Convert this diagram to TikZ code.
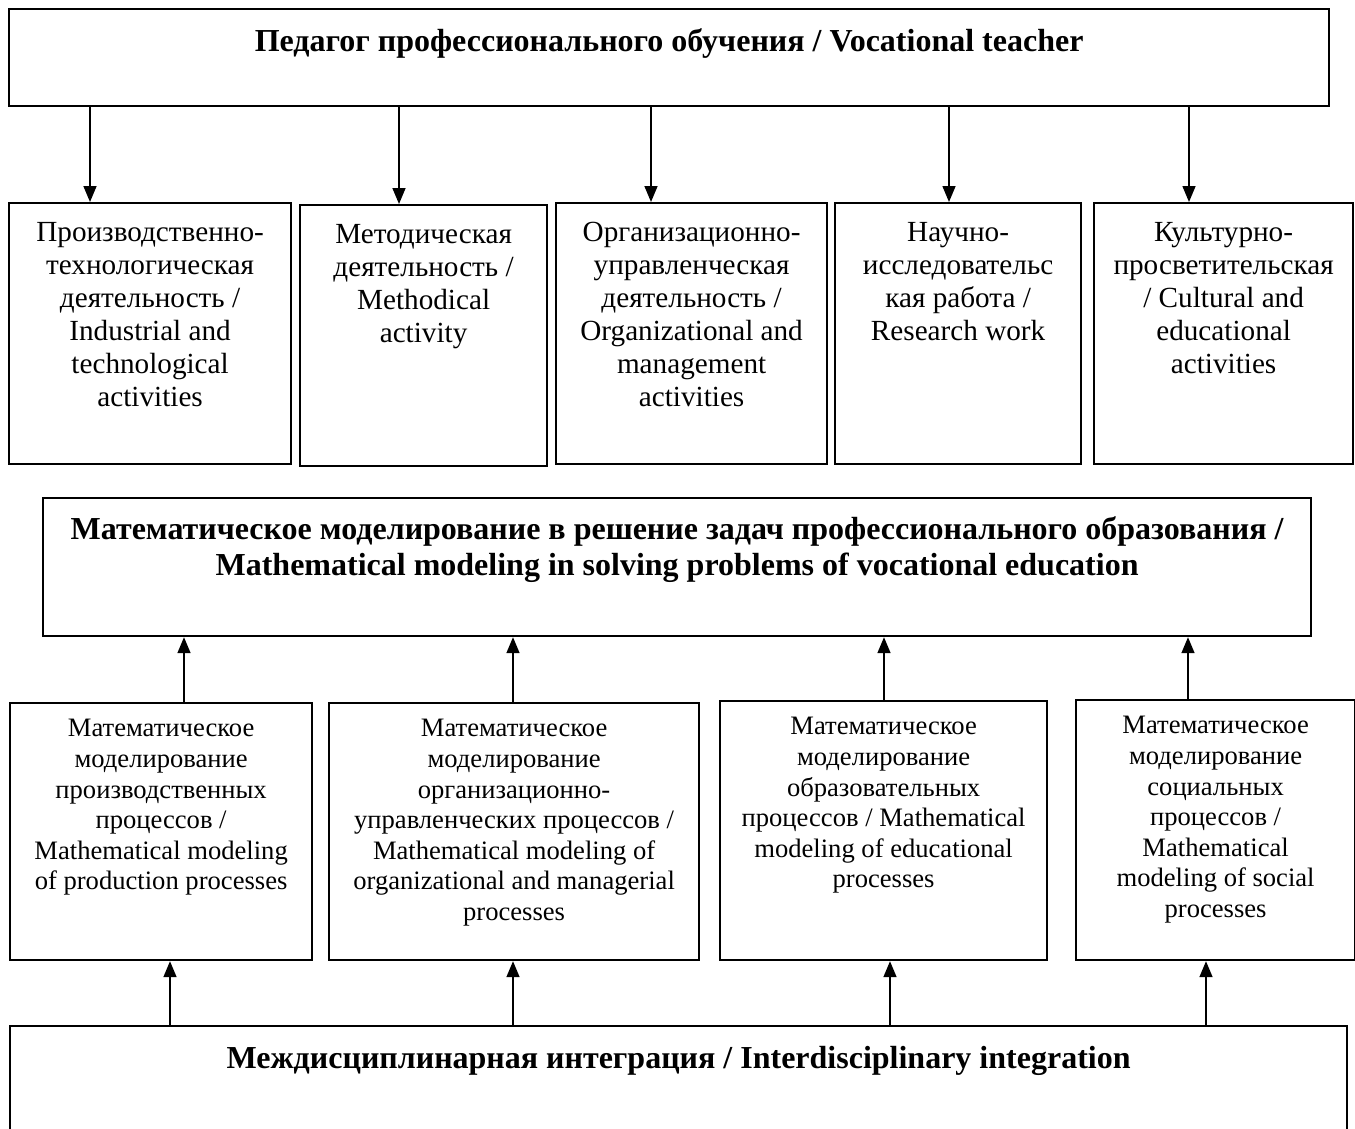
\documentclass[tikz,border=0pt]{standalone}
\usepackage{fontspec}
\setmainfont{Liberation Serif}
\usetikzlibrary{arrows.meta}

\tikzset{
  blk/.style 2 args={draw, line width=1.1pt, rectangle, inner sep=0pt, anchor=north west,
    minimum width=#1*0.5pt, minimum height=#2*0.5pt},
  lbl/.style={anchor=north, align=center, inner sep=0pt, font=\fontsize{14.6}{16.5}\selectfont},
  sublbl/.style={anchor=north, align=center, inner sep=0pt, font=\fontsize{13.3}{15.3}\selectfont},
  head/.style={anchor=north, align=center, inner sep=0pt, font=\bfseries\fontsize{16}{18}\selectfont},
  arr/.style={-{Triangle[width=6.5pt,length=8pt]}, line width=0.8pt},
}

\begin{document}
\begin{tikzpicture}[x=0.5pt, y=-0.5pt]
\useasboundingbox (0,0) rectangle (1355,1129);

% top
\node[blk={1320}{97}] (T) at (8,8) {};
\node[head] (tT) at ([yshift=-10pt]T.north) {Педагог профессионального обучения / Vocational teacher};

% kinds of activity
\node[blk={282}{261}] (A1) at (8,202) {};
\node[blk={247}{261}] (A2) at (299,204) {};
\node[blk={271}{261}] (A3) at (555,202) {};
\node[blk={246}{261}] (A4) at (834,202) {};
\node[blk={259}{261}] (A5) at (1093,202) {};
\node[lbl] (tA1) at ([yshift=-10pt]A1.north) {Производственно-\\технологическая\\деятельность /\\Industrial and\\technological\\activities};
\node[lbl] (tA2) at ([yshift=-10pt]A2.north) {Методическая\\деятельность /\\Methodical\\activity};
\node[lbl] (tA3) at ([yshift=-10pt]A3.north) {Организационно-\\управленческая\\деятельность /\\Organizational and\\management\\activities};
\node[lbl] (tA4) at ([yshift=-10pt]A4.north) {Научно-\\исследовательс\\кая работа /\\Research work};
\node[lbl] (tA5) at ([yshift=-10pt]A5.north) {Культурно-\\просветительская\\/ Cultural and\\educational\\activities};

% modeling
\node[blk={1268}{138}] (M) at (42,497) {};
\node[head] (tM) at ([yshift=-9.5pt]M.north) {Математическое моделирование в решение задач профессионального образования /\\Mathematical modeling in solving problems of vocational education};

\node[blk={302}{257}] (B1) at (9,702) {};
\node[blk={370}{257}] (B2) at (328,702) {};
\node[blk={327}{259}] (B3) at (719,700) {};
\node[blk={279}{260}] (B4) at (1075,699) {};
\node[sublbl] (tB1) at ([yshift=-8.5pt]B1.north) {Математическое\\моделирование\\производственных\\процессов /\\Mathematical modeling\\of production processes};
\node[sublbl] (tB2) at ([yshift=-8.5pt]B2.north) {Математическое\\моделирование\\организационно-\\управленческих процессов /\\Mathematical modeling of\\organizational and managerial\\processes};
\node[sublbl] (tB3) at ([yshift=-8.5pt]B3.north) {Математическое\\моделирование\\образовательных\\процессов / Mathematical\\modeling of educational\\processes};
\node[sublbl] (tB4) at ([yshift=-8.5pt]B4.north) {Математическое\\моделирование\\социальных\\процессов /\\Mathematical\\modeling of social\\processes};

% bottom
\node[blk={1337}{120}] (D) at (9,1025) {};
\node[head] (tD) at ([yshift=-10.5pt]D.north) {Междисциплинарная интеграция / Interdisciplinary integration};

% arrow columns
\coordinate (ka1) at (90,0);
\coordinate (ka2) at (399,0);
\coordinate (ka3) at (651,0);
\coordinate (ka4) at (949,0);
\coordinate (ka5) at (1189,0);
\coordinate (kb1) at (184,0);
\coordinate (kb2) at (513,0);
\coordinate (kb3) at (884,0);
\coordinate (kb4) at (1188,0);
\coordinate (kd1) at (170,0);
\coordinate (kd2) at (513,0);
\coordinate (kd3) at (890,0);
\coordinate (kd4) at (1206,0);

\draw[arr] (T.south -| ka1) -- (A1.north -| ka1);
\draw[arr] (T.south -| ka2) -- (A2.north -| ka2);
\draw[arr] (T.south -| ka3) -- (A3.north -| ka3);
\draw[arr] (T.south -| ka4) -- (A4.north -| ka4);
\draw[arr] (T.south -| ka5) -- (A5.north -| ka5);

\draw[arr] (B1.north -| kb1) -- (M.south -| kb1);
\draw[arr] (B2.north -| kb2) -- (M.south -| kb2);
\draw[arr] (B3.north -| kb3) -- (M.south -| kb3);
\draw[arr] (B4.north -| kb4) -- (M.south -| kb4);

\draw[arr] (D.north -| kd1) -- (B1.south -| kd1);
\draw[arr] (D.north -| kd2) -- (B2.south -| kd2);
\draw[arr] (D.north -| kd3) -- (B3.south -| kd3);
\draw[arr] (D.north -| kd4) -- (B4.south -| kd4);
\end{tikzpicture}
\end{document}
